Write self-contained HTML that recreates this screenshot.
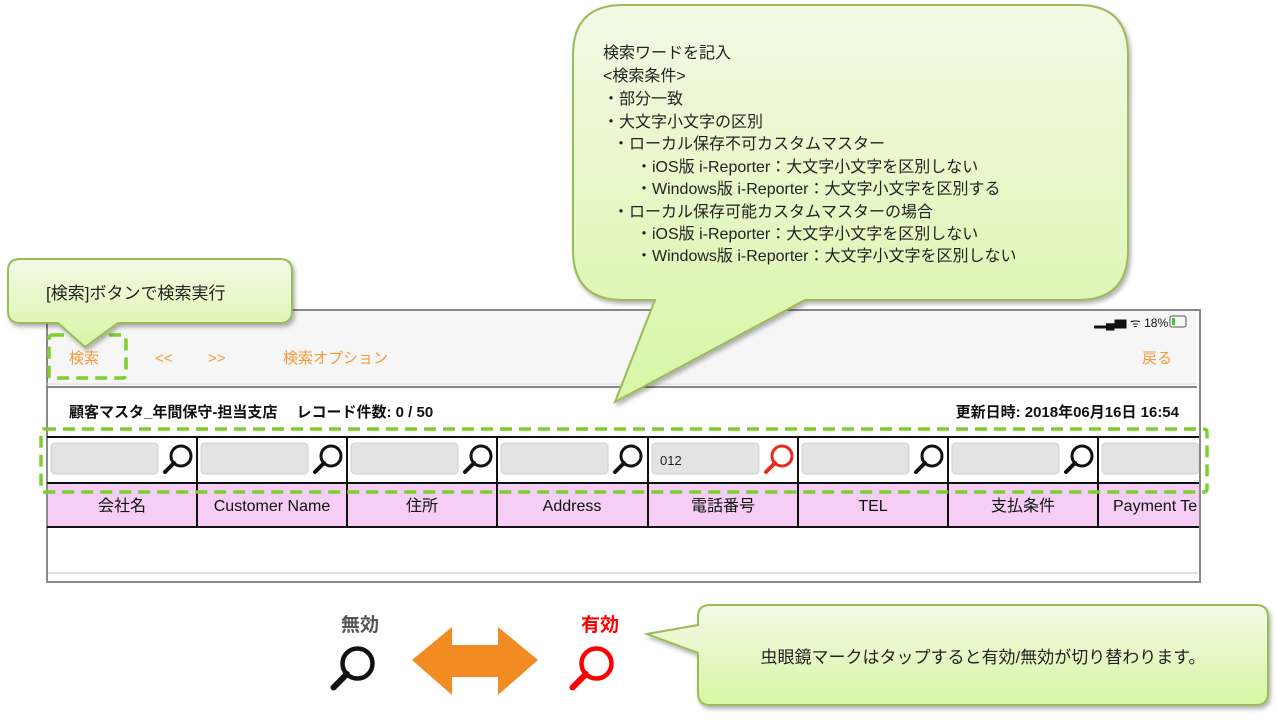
<!DOCTYPE html>
<html><head><meta charset="utf-8"><style>
body{margin:0;width:1277px;height:716px;background:#fff;overflow:hidden;font-family:"Liberation Sans","Noto Sans CJK JP",sans-serif}
svg text{font-family:"Liberation Sans","Noto Sans CJK JP",sans-serif}
</style></head><body>
<svg width="1277" height="716" viewBox="0 0 1277 716" xmlns="http://www.w3.org/2000/svg">
<defs>
<linearGradient id="g" x1="0" y1="0" x2="0" y2="1"><stop offset="0" stop-color="#f3f9e6"/><stop offset="1" stop-color="#d8f6a4"/></linearGradient>
<filter id="sh" x="-5%" y="-5%" width="115%" height="120%"><feDropShadow dx="2" dy="3" stdDeviation="2" flood-color="#000" flood-opacity="0.3"/></filter>
<g id="mg"><circle cx="7" cy="-7" r="10" fill="none" stroke-width="3"/><line x1="0" y1="0" x2="-9" y2="9" stroke-width="4" stroke-linecap="round"/></g>
</defs>

<!-- app frame -->
<rect x="47" y="310" width="1153" height="272" fill="#fff" stroke="#888" stroke-width="2"/>
<rect x="48" y="311" width="1148" height="75" fill="#f6f6f6"/>
<line x1="47" y1="387" x2="1197" y2="387" stroke="#888" stroke-width="2"/>
<line x1="47" y1="384" x2="1197" y2="384" stroke="#ddd" stroke-width="1"/>
<text x="1094" y="327" font-size="12" fill="#111">▂▄▆ ᯤ 18%</text>
<rect x="1170" y="316" width="16" height="11" rx="2" fill="none" stroke="#555" stroke-width="1"/>
<rect x="1172" y="318" width="3" height="7" fill="#3c3"/>
<text x="69" y="363" font-size="15" fill="#f39a3a">検索</text>
<text x="155" y="363" font-size="15" fill="#f39a3a">&lt;&lt;</text>
<text x="208" y="363" font-size="15" fill="#f39a3a">&gt;&gt;</text>
<text x="283" y="363" font-size="15" fill="#f39a3a">検索オプション</text>
<text x="1142" y="363" font-size="15" fill="#f39a3a">戻る</text>
<text x="69" y="417" font-size="15" font-weight="bold" fill="#111">顧客マスタ_年間保守-担当支店　 レコード件数: 0 / 50</text>
<text x="1179" y="417" font-size="15" font-weight="bold" fill="#111" text-anchor="end">更新日時: 2018年06月16日 16:54</text>

<!-- table -->
<rect x="48" y="437" width="1152" height="46" fill="#fff"/>
<rect x="48" y="483" width="1152" height="44" fill="#f5cdf5"/>
<line x1="47" y1="437" x2="1200" y2="437" stroke="#111" stroke-width="2"/>
<line x1="47" y1="483" x2="1200" y2="483" stroke="#111" stroke-width="2"/>
<line x1="47" y1="527" x2="1200" y2="527" stroke="#111" stroke-width="2"/>
<line x1="48" y1="573" x2="1198" y2="573" stroke="#e0e0e0" stroke-width="2"/>
<g stroke="#111" stroke-width="2">
<line x1="197" y1="437" x2="197" y2="527"/><line x1="347" y1="437" x2="347" y2="527"/><line x1="497" y1="437" x2="497" y2="527"/><line x1="648" y1="437" x2="648" y2="527"/><line x1="798" y1="437" x2="798" y2="527"/><line x1="948" y1="437" x2="948" y2="527"/><line x1="1098" y1="437" x2="1098" y2="527"/>
</g>
<g fill="#e3e3e3" stroke="#d0d0d0" stroke-width="1">
<rect x="51" y="443" width="107" height="31" rx="4"/><rect x="201" y="443" width="107" height="31" rx="4"/><rect x="351" y="443" width="107" height="31" rx="4"/><rect x="501" y="443" width="107" height="31" rx="4"/><rect x="652" y="443" width="107" height="31" rx="4"/><rect x="802" y="443" width="107" height="31" rx="4"/><rect x="952" y="443" width="107" height="31" rx="4"/><rect x="1102" y="443" width="97" height="31" rx="4"/>
</g>
<text x="660" y="465" font-size="13" fill="#222">012</text>
<g stroke="#111">
<use href="#mg" x="174" y="463"/><use href="#mg" x="324" y="463"/><use href="#mg" x="474" y="463"/><use href="#mg" x="624" y="463"/><use href="#mg" x="925" y="463"/><use href="#mg" x="1075" y="463"/>
</g>
<use href="#mg" x="775" y="463" stroke="#e8291c"/>
<g font-size="16" fill="#111" text-anchor="middle">
<text x="122" y="511">会社名</text><text x="272" y="511">Customer Name</text><text x="422" y="511">住所</text><text x="572" y="511">Address</text><text x="723" y="511">電話番号</text><text x="873" y="511">TEL</text><text x="1023" y="511">支払条件</text>
</g>
<text x="1113" y="511" font-size="16" fill="#111">Payment Te</text>
<rect x="1200" y="430" width="77" height="100" fill="#fff"/>
<line x1="1200" y1="310" x2="1200" y2="582" stroke="#888" stroke-width="2"/>

<!-- dashed boxes -->
<rect x="49" y="335" width="77" height="43" rx="3" fill="none" stroke="#7ccf2c" stroke-width="3.5" stroke-dasharray="12,7"/>
<rect x="41" y="429" width="1166" height="63" rx="3" fill="none" stroke="#7ccf2c" stroke-width="3.5" stroke-dasharray="12,7"/>

<!-- big callout -->
<path d="M623,5 H1078 Q1128,5 1128,55 V250 Q1128,300 1078,300 H805 L615,402 L655,300 H623 Q573,300 573,250 V55 Q573,5 623,5 Z" fill="url(#g)" stroke="#9bbb59" stroke-width="2" filter="url(#sh)"/>
<g font-size="16" fill="#222">
<text x="603" y="58">検索ワードを記入</text>
<text x="603" y="81">&lt;検索条件&gt;</text>
<text x="603" y="104">・部分一致</text>
<text x="603" y="127">・大文字小文字の区別</text>
<text x="613" y="149">・ローカル保存不可カスタムマスター</text>
<text x="636" y="172">・iOS版 i-Reporter：大文字小文字を区別しない</text>
<text x="636" y="194">・Windows版 i-Reporter：大文字小文字を区別する</text>
<text x="613" y="217">・ローカル保存可能カスタムマスターの場合</text>
<text x="636" y="239">・iOS版 i-Reporter：大文字小文字を区別しない</text>
<text x="636" y="261">・Windows版 i-Reporter：大文字小文字を区別しない</text>
</g>

<!-- small callout -->
<path d="M20,259 H280 Q292,259 292,271 V311 Q292,323 280,323 H118 L85,347 L58,323 H20 Q8,323 8,311 V271 Q8,259 20,259 Z" fill="url(#g)" stroke="#9bbb59" stroke-width="2" filter="url(#sh)"/>
<text x="46" y="299" font-size="17" fill="#222">[検索]ボタンで検索実行</text>

<!-- bottom -->
<text x="360" y="631" font-size="19" font-weight="bold" fill="#555" text-anchor="middle">無効</text>
<text x="600" y="631" font-size="19" font-weight="bold" fill="#f00" text-anchor="middle">有効</text>
<g transform="translate(347,674) scale(1.5)" stroke="#111"><use href="#mg"/></g>
<g transform="translate(586,674) scale(1.5)" stroke="#f00"><use href="#mg"/></g>
<polygon points="412,660 452,627 452,645 498,645 498,627 538,660 498,695 498,677 452,677 452,695" fill="#f28c22"/>
<path d="M710,605 H1256 Q1268,605 1268,617 V693 Q1268,705 1256,705 H710 Q698,705 698,693 V653 L647,634 L698,625 V617 Q698,605 710,605 Z" fill="url(#g)" stroke="#9bbb59" stroke-width="2" filter="url(#sh)"/>
<text x="983" y="663" font-size="17" fill="#222" text-anchor="middle">虫眼鏡マークはタップすると有効/無効が切り替わります。</text>
</svg>
</body></html>
